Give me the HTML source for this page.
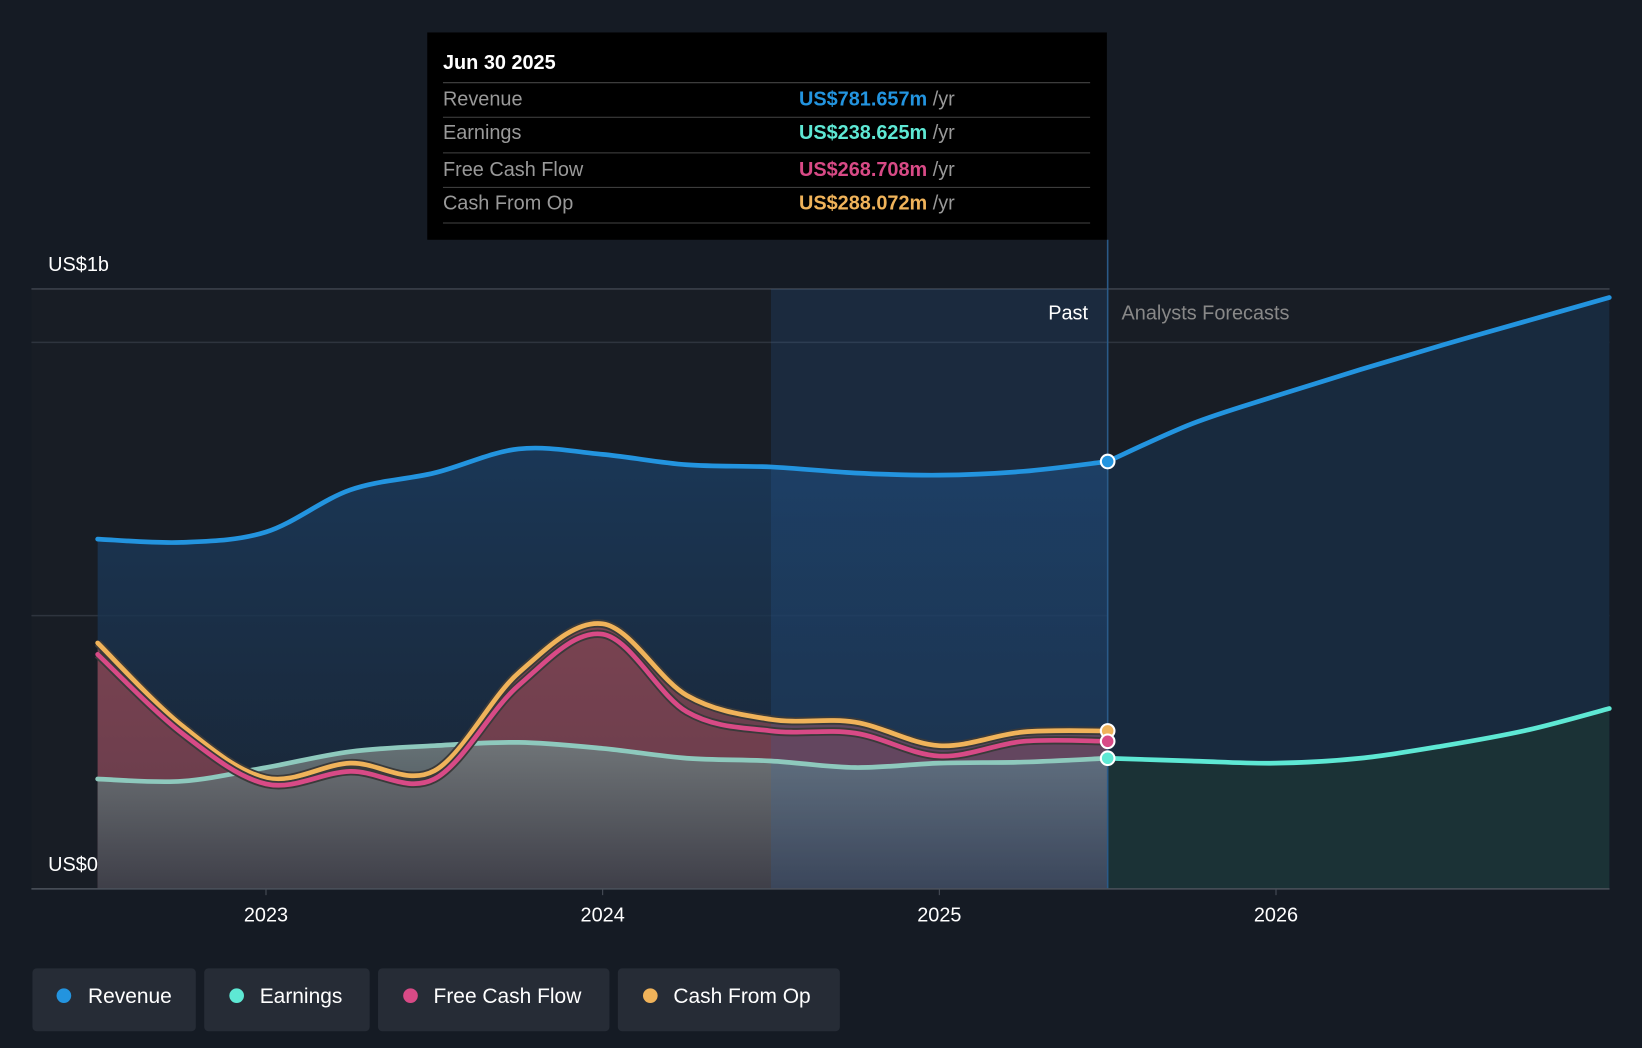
<!DOCTYPE html>
<html><head><meta charset="utf-8"><style>
html,body{margin:0;padding:0;background:#151b24;}
svg{display:block;font-family:"Liberation Sans",sans-serif;}
</style></head><body>
<svg width="1642" height="1048" viewBox="0 0 1568 1001" preserveAspectRatio="none" xmlns="http://www.w3.org/2000/svg">
<defs>
<linearGradient id="gRev" x1="0" y1="0" x2="0" y2="1"><stop offset="0" stop-color="#1a3a5c" stop-opacity="0.9"/><stop offset="1" stop-color="#1a2a3e" stop-opacity="0.6"/></linearGradient>
<linearGradient id="gCash" x1="0" y1="0" x2="0" y2="1"><stop offset="0" stop-color="#8a4a55"/><stop offset="1" stop-color="#5a3a48"/></linearGradient>
<linearGradient id="gEarn" x1="0" y1="0" x2="0" y2="1"><stop offset="0" stop-color="#6f7a7c"/><stop offset="1" stop-color="#3a3f48"/></linearGradient>
</defs>
<rect x="0" y="0" width="1568" height="1001" fill="#151b24"/>
<rect x="30" y="276" width="1507" height="573" fill="#181d25"/>
<g id="chart"></g>
<g>
<rect x="408" y="31" width="649" height="198" fill="#000"/>
<text x="423" y="66" fill="#fff" font-size="19" font-weight="bold">Jun 30 2025</text>
<line x1="423" y1="79" x2="1041" y2="79" stroke="#444"/>
<text x="423" y="101" fill="#999" font-size="19">Revenue</text>
<text x="763" y="101" font-size="19"><tspan fill="#2394df" font-weight="bold">US$781.657m</tspan><tspan fill="#999"> /yr</tspan></text>
<line x1="423" y1="112" x2="1041" y2="112" stroke="#444"/>
<text x="423" y="133" fill="#999" font-size="19">Earnings</text>
<text x="763" y="133" font-size="19"><tspan fill="#5ee8d4" font-weight="bold">US$238.625m</tspan><tspan fill="#999"> /yr</tspan></text>
<line x1="423" y1="146" x2="1041" y2="146" stroke="#444"/>
<text x="423" y="168" fill="#999" font-size="19">Free Cash Flow</text>
<text x="763" y="168" font-size="19"><tspan fill="#d84a86" font-weight="bold">US$268.708m</tspan><tspan fill="#999"> /yr</tspan></text>
<line x1="423" y1="179" x2="1041" y2="179" stroke="#444"/>
<text x="423" y="200" fill="#999" font-size="19">Cash From Op</text>
<text x="763" y="200" font-size="19"><tspan fill="#f0b35a" font-weight="bold">US$288.072m</tspan><tspan fill="#999"> /yr</tspan></text>
<line x1="423" y1="213" x2="1041" y2="213" stroke="#444"/>
</g>
<text x="46" y="259" fill="#fff" font-size="19">US$1b</text>
<text x="46" y="832" fill="#fff" font-size="19">US$0</text>
<text x="1039" y="305" fill="#fff" font-size="19" text-anchor="end">Past</text>
<text x="1071" y="305" fill="#888" font-size="19">Analysts Forecasts</text>
<g>
<g><rect x="31" y="925" width="156" height="60" rx="4" fill="#262c36"/><circle cx="61" cy="951" r="7" fill="#2394df"/><text x="84" y="958" fill="#fff" font-size="20">Revenue</text></g>
<g><rect x="195" y="925" width="158" height="60" rx="4" fill="#262c36"/><circle cx="226" cy="951" r="7" fill="#5ee8d4"/><text x="248" y="958" fill="#fff" font-size="20">Earnings</text></g>
<g><rect x="361" y="925" width="221" height="60" rx="4" fill="#262c36"/><circle cx="392" cy="951" r="7" fill="#d84a86"/><text x="414" y="958" fill="#fff" font-size="20">Free Cash Flow</text></g>
<g><rect x="590" y="925" width="212" height="60" rx="4" fill="#262c36"/><circle cx="621" cy="951" r="7" fill="#f0b35a"/><text x="643" y="958" fill="#fff" font-size="20">Cash From Op</text></g>
</g>
</svg>
<script>
const pastDates=[2022.5,2022.75,2023,2023.25,2023.5,2023.75,2024,2024.25,2024.5,2024.75,2025,2025.25,2025.5];
const revenuePast=[640,634,653,730,761,805,795,776,772,761,757,764,782];
const earningsPast=[201,197,222,251,262,268,257,239,234,222,230,232,239];
const fcfPast=[429,285,192,215,201,372,466,324,289,285,243,270,270];
const cfoPast=[450,299,203,230,216,395,485,354,310,305,262,287,289];
const fcDates=[2025.5,2025.75,2026,2026.25,2026.5,2026.75,2026.99];
const revenueFc=[782,851,902,950,996,1040,1082];
const earningsFc=[239,234,230,239,262,291,330];
const xTicks=[2023,2024,2025,2026];

(function(){
const NS="http://www.w3.org/2000/svg";
const X=t=>254+(t-2023)*321.5;
const Y=v=>849-v*0.522;
const g=document.getElementById('chart');
function el(tag,attrs){const e=document.createElementNS(NS,tag);for(const k in attrs)e.setAttribute(k,attrs[k]);g.appendChild(e);return e;}
function pts(d,v){return d.map((t,i)=>[X(t),Y(v[i])]);}
function smooth(p){let s=`M${p[0][0]},${p[0][1]}`;for(let i=0;i<p.length-1;i++){const p0=p[i-1]||p[i],p1=p[i],p2=p[i+1],p3=p[i+2]||p2;const c1=[p1[0]+(p2[0]-p0[0])/6,p1[1]+(p2[1]-p0[1])/6],c2=[p2[0]-(p3[0]-p1[0])/6,p2[1]-(p3[1]-p1[1])/6];s+=`C${c1[0]},${c1[1]} ${c2[0]},${c2[1]} ${p2[0]},${p2[1]}`;}return s;}
function area(p){return smooth(p)+`L${p[p.length-1][0]},849L${p[0][0]},849Z`;}

[0,500,1000].forEach(v=>{const l=el('line',{x1:30,x2:1537,y1:Y(v),y2:Y(v),stroke:'#2e343e','stroke-width':1.5});

});
const topBorder=el('line',{x1:30,x2:1537,y1:276,y2:276,stroke:'#3a404a','stroke-width':1.5});



const rP=pts(pastDates,revenuePast),eP=pts(pastDates,earningsPast),fP=pts(pastDates,fcfPast),cP=pts(pastDates,cfoPast);
const rF=pts(fcDates,revenueFc),eF=pts(fcDates,earningsFc);

let a;
a=el('path',{d:area(rP),fill:'url(#gRev)'});


a=el('path',{d:area(rF),fill:'#182a3e'});


a=el('path',{d:area(cP),fill:'url(#gCash)',opacity:0.85});


a=el('path',{d:area(fP),fill:'#7a4050',opacity:0.5});


a=el('path',{d:area(eP),fill:'url(#gEarn)',opacity:0.9});


a=el('path',{d:area(eF),fill:'#1b3236'});


a=el('rect',{x:X(2024.5),y:276,width:X(2025.5)-X(2024.5),height:573,fill:'#2a6ab0',opacity:0.18});


a=el('line',{x1:X(2025.5),x2:X(2025.5),y1:229,y2:849,stroke:'#2a5a88','stroke-width':1.5});



const lines=[[rP,'#2394df','revenue-line'],[rF,'#2394df','revenue-forecast-line'],[eP,'#8ec9bd','earnings-line'],[eF,'#5ee8d4','earnings-forecast-line'],[cP,'#f0b35a','cash-from-op-line'],[fP,'#d84a86','fcf-line']];
lines.forEach(([p,c,n])=>{if(n==='cash-from-op-line'||n==='fcf-line'){const s=el('path',{d:smooth(p),fill:'none',stroke:'#3a3a3a','stroke-width':8});

}
const l=el('path',{d:smooth(p),fill:'none',stroke:c,'stroke-width':4.5,'stroke-linecap':'round'});

});

const last=pastDates.length-1;
[[cfoPast,'#f0b35a','cfo-marker'],[fcfPast,'#d84a86','fcf-marker'],[earningsPast,'#5ee8d4','earnings-marker'],[revenuePast,'#2394df','revenue-marker']].forEach(([v,c,n])=>{
const m=el('circle',{cx:X(pastDates[last]),cy:Y(v[last]),r:6.5,fill:c,stroke:'#fff','stroke-width':2});

});

a=el('line',{x1:30,x2:1537,y1:849,y2:849,stroke:'#4a505a','stroke-width':1.5});


xTicks.forEach(t=>{const k=el('line',{x1:X(t),x2:X(t),y1:849,y2:855,stroke:'#4a505a'});


const tx=el('text',{x:X(t),y:880,fill:'#fff','font-size':19,'text-anchor':'middle'});
tx.textContent=t;

});
})();
</script>
</body></html>
